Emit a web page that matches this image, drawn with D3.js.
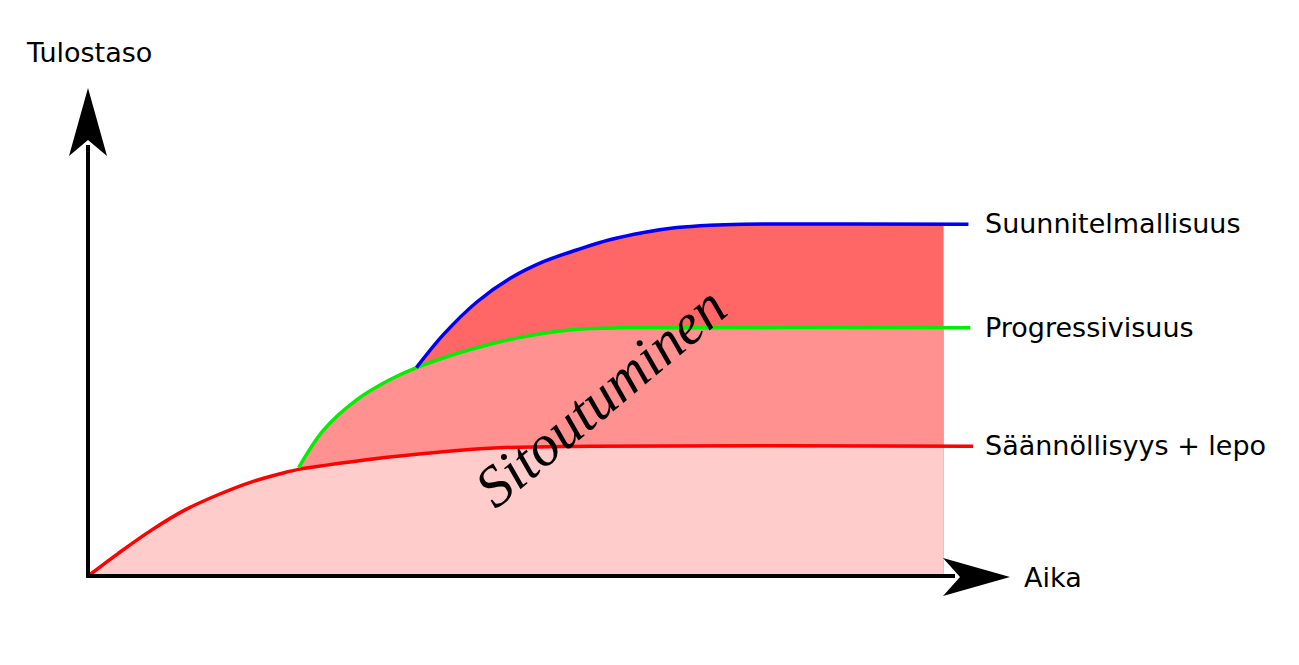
<!DOCTYPE html>
<html><head><meta charset="utf-8">
<script src="https://cdn.jsdelivr.net/npm/d3@7"></script>
<style>body{margin:0;background:#fff}svg{display:block}</style>
</head><body>
<script>
// Data (time 0..100, level 0..100)
const seriesNames = ["Säännöllisyys + lepo", "Progressivisuus", "Suunnitelmallisuus"];
const redX   = [0, 3.3, 6.9, 10.5, 14.2, 17.8, 21.4, 23.0, 24.7, 32.8, 43.7, 54.6, 96.2];
const redY   = [0, 4.65, 9.4, 13.5, 16.7, 19.3, 21.2, 21.9, 22.4, 24.4, 26.2, 26.6, 26.6];
const greenX = [22.9, 25.6, 29.2, 32.8, 35.7, 40.1, 43.7, 47.3, 50.9, 54.6, 57.8, 95.9];
const greenY = [22.2, 29.9, 36.1, 40.2, 42.7, 45.6, 47.5, 49.0, 50.1, 50.7, 50.85, 50.85];
const blueX  = [35.7, 38.6, 42.3, 45.9, 49.5, 53.1, 56.7, 60.4, 64.0, 67.6, 71.2, 95.7];
const blueY  = [42.7, 49.4, 56.2, 61.0, 64.4, 66.8, 68.9, 70.4, 71.4, 71.9, 72.1, 72.1];
const fillEnd = 93.0;
const axisLabels = {x: "Aika", y: "Tulostaso"};
const centerLabel = "Sitoutuminen";

const W = 1299, H = 665;
const x = d3.scaleLinear().domain([0, 100]).range([88, 1008]);
const y = d3.scaleLinear().domain([0, 100]).range([576, 88]);

const svg = d3.select("body").append("svg").attr("width", W).attr("height", H);

function pts(xs, ys) { return xs.map((v, i) => ({x: v, y: ys[i]})); }
function clipPts(p) {
  const out = p.filter(d => d.x <= fillEnd);
  const last = p[p.length - 1];
  out.push({x: fillEnd, y: last.y});
  return out;
}
const red = pts(redX, redY), green = pts(greenX, greenY), blue = pts(blueX, blueY);

const curve = d3.curveCatmullRom.alpha(0.5);
const area = d3.area().x(d => x(d.x)).y0(y(0)).y1(d => y(d.y)).curve(curve);
const line = d3.line().x(d => x(d.x)).y(d => y(d.y)).curve(curve);

svg.append("path").datum(clipPts(blue)).attr("d", area).attr("fill", "#ff6666");
svg.append("path").datum(clipPts(green)).attr("d", area).attr("fill", "#ff9191");
svg.append("path").datum(clipPts(red)).attr("d", area).attr("fill", "#ffcccc");

const colors = ["#ff0000", "#00ee00", "#0000ee"];
[red, green, blue].forEach((s, i) => {
  svg.append("path").datum(s).attr("d", line).attr("fill", "none")
    .attr("stroke", colors[i]).attr("stroke-width", 3.5);
});

// axes
svg.append("line").attr("x1", x(0)).attr("y1", y(0) + 2).attr("x2", x(0)).attr("y2", 145)
  .attr("stroke", "#000").attr("stroke-width", 4);
svg.append("line").attr("x1", x(0) - 2).attr("y1", y(0)).attr("x2", 955).attr("y2", y(0))
  .attr("stroke", "#000").attr("stroke-width", 4);
svg.append("path").attr("d", "M88,88 L107,156 L88,140 L69,156 Z").attr("fill", "#000");
svg.append("path").attr("d", "M1010,577 L943,596 L960,577 L943,558 Z").attr("fill", "#000");

const font = "DejaVu Sans, sans-serif";
svg.append("text").attr("x", 27).attr("y", 62).text(axisLabels.y)
  .attr("font-family", font).attr("font-size", 27).attr("fill", "#000");
svg.append("text").attr("x", 1024).attr("y", 587).text(axisLabels.x)
  .attr("font-family", font).attr("font-size", 27).attr("fill", "#000");

const labelSeries = [blue, green, red];
const labelNames = [seriesNames[2], seriesNames[1], seriesNames[0]];
labelSeries.forEach((s, i) => {
  const last = s[s.length - 1];
  svg.append("text").attr("x", 985).attr("y", y(last.y) + 9).text(labelNames[i])
    .attr("font-family", font).attr("font-size", 27).attr("fill", "#000");
});

svg.append("text").attr("transform", "translate(600,396) rotate(-40)")
  .attr("text-anchor", "middle").attr("dy", "0.35em").text(centerLabel)
  .attr("font-family", "Liberation Serif, serif").attr("font-style", "italic")
  .attr("font-size", 58).attr("fill", "#000");
</script>
</body></html>
